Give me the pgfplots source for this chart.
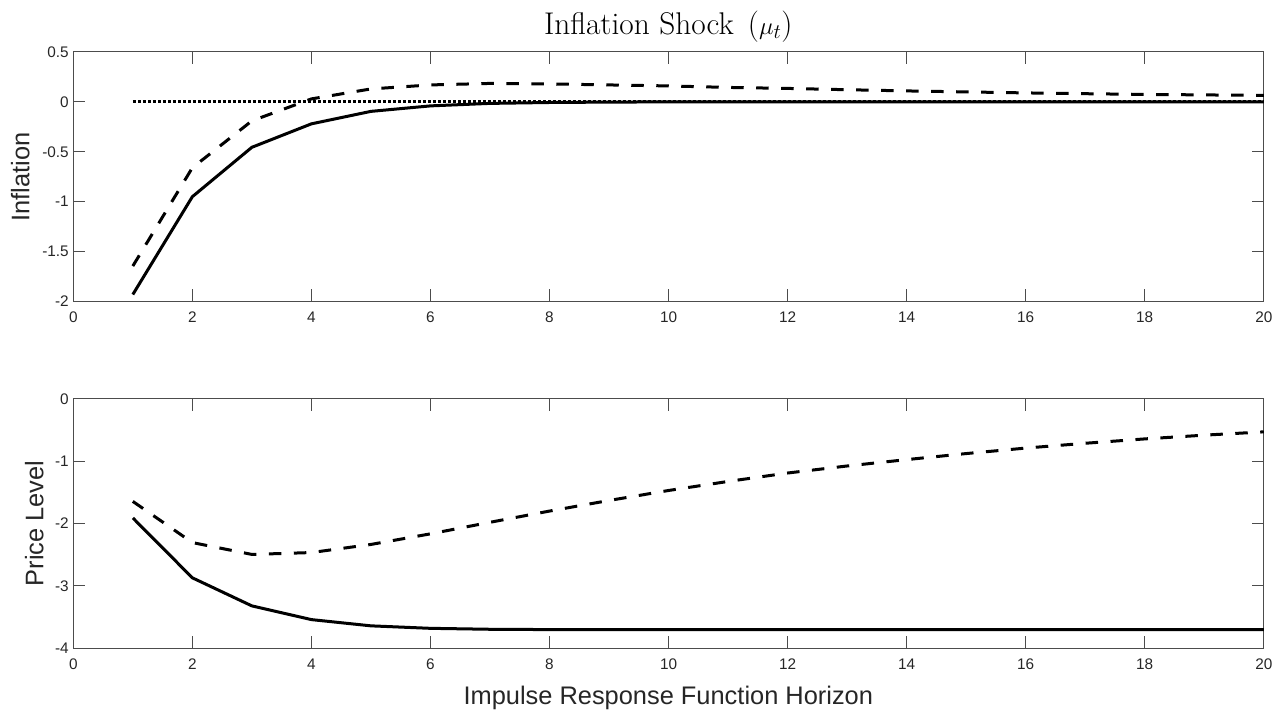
\documentclass[border=0pt]{standalone}
\usepackage{fontspec}
\setsansfont{Liberation Sans}
\usepackage{pgfplots}
\pgfplotsset{compat=1.18}
\definecolor{axgray}{gray}{0.3}
\definecolor{txtgray}{gray}{0.15}
\pgfplotsset{
  irf/.style={
    scale only axis, width=1190.5bp, height=249.5bp,
    xmin=0, xmax=20,
    xtick={0,2,4,6,8,10,12,14,16,18,20},
    xticklabels={0,2,4,6,8,10,12,14,16,18,20},
    tick align=inside, major tick length=12bp,
    axis line style={axgray, line width=1bp},
    every tick/.style={axgray, line width=1bp},
    tick label style={font=\sffamily\fontsize{15.4}{18}\selectfont, text=txtgray},
    xticklabel style={yshift=-7bp},
    yticklabel style={xshift=-1bp},
    anchor=south west,
  },
  solidl/.style={black, line width=3bp},
  dashl/.style={black, line width=3bp, dash pattern=on 12.5bp off 12.5bp},
  dotl/.style={black, line width=3bp, dash pattern=on 3bp off 2bp},
}
\begin{document}
\begin{tikzpicture}
\useasboundingbox (0,0) rectangle (1286bp,711bp);
% top panel: inflation
\begin{axis}[irf, at={(73.3bp,409.5bp)},
  ymin=-2, ymax=0.5,
  ytick={-2,-1.5,-1,-0.5,0,0.5},
  yticklabels={-2,-1.5,-1,-0.5,0,0.5}]
\addplot[solidl] coordinates {
(1,-1.93) (2,-0.95) (3,-0.455) (4,-0.22) (5,-0.095) (6,-0.04) (7,-0.015) (8,-0.006) (9,-0.002) (10,0)
(11,0) (12,0) (13,0) (14,0) (15,0) (16,0) (17,0) (18,0) (19,0) (20,0)};
\addplot[dashl] coordinates {
(1,-1.645) (2,-0.66) (3,-0.19) (4,0.03) (5,0.13) (6,0.17) (7,0.185) (8,0.18) (9,0.17) (10,0.16)
(11,0.145) (12,0.135) (13,0.122) (14,0.11) (15,0.1) (16,0.09) (17,0.082) (18,0.075) (19,0.07) (20,0.065)};
\addplot[dotl] coordinates {(1,0) (20,0)};
\end{axis}
% bottom panel: price level
\begin{axis}[irf, at={(73.3bp,62.7bp)},
  ymin=-4, ymax=0,
  ytick={-4,-3,-2,-1,0},
  yticklabels={-4,-3,-2,-1,0}]
\addplot[solidl] coordinates {
(1,-1.91) (2,-2.87) (3,-3.32) (4,-3.54) (5,-3.64) (6,-3.68) (7,-3.695) (8,-3.70) (9,-3.70) (10,-3.70)
(11,-3.70) (12,-3.70) (13,-3.70) (14,-3.70) (15,-3.70) (16,-3.70) (17,-3.70) (18,-3.70) (19,-3.70) (20,-3.70)};
\addplot[dashl] coordinates {
(1,-1.645) (2,-2.305) (3,-2.495) (4,-2.465) (5,-2.335) (6,-2.165) (7,-1.98) (8,-1.80) (9,-1.63) (10,-1.47)
(11,-1.325) (12,-1.19) (13,-1.077) (14,-0.975) (15,-0.878) (16,-0.79) (17,-0.713) (18,-0.643) (19,-0.583) (20,-0.53)};
\end{axis}
% titles and labels
\node[anchor=base, inner sep=0pt] at (668.3bp,676.7bp) {\fontsize{31.5}{36}\selectfont Inflation Shock\hspace{0.45em}($\mu_t$)};
\node[anchor=base, inner sep=0pt, text=txtgray] at (668.3bp,7bp) {\sffamily\fontsize{25.5}{30}\selectfont Impulse Response Function Horizon};
\node[anchor=base, rotate=90, inner sep=0pt, text=txtgray] at (29.3bp,534bp) {\sffamily\fontsize{25.5}{30}\selectfont Inflation};
\node[anchor=base, rotate=90, inner sep=0pt, text=txtgray] at (43.3bp,187.5bp) {\sffamily\fontsize{25.5}{30}\selectfont Price Level};
\end{tikzpicture}
\end{document}
